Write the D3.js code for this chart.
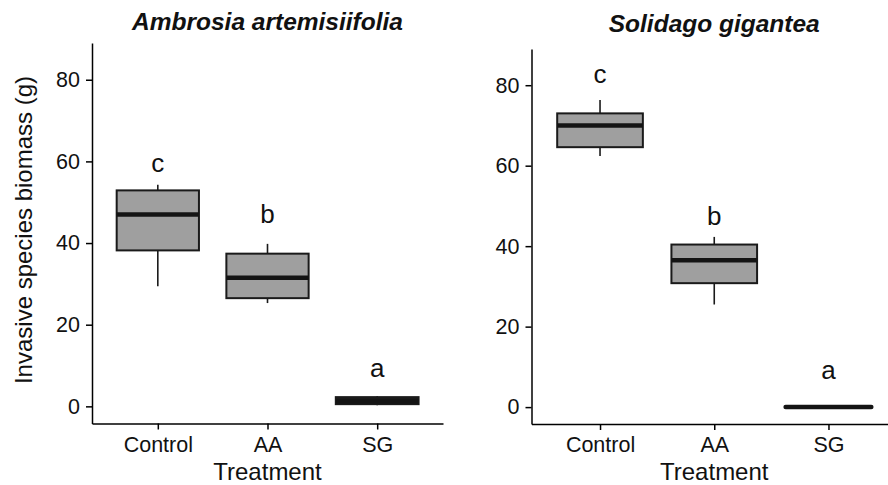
<!DOCTYPE html>
<html lang="en">
<head>
    <meta charset="UTF-8">
    <title>Invasive species biomass</title>
    <script src="https://d3js.org/d3.v7.min.js"></script>
    <style>
        body { margin: 0; background: #ffffff; }
        svg { display: block; font-family: "Liberation Sans", Arial, sans-serif; }
        .axis path, .axis line { stroke: #000; stroke-width: 1.5; }
        .axis text { font-size: 21.5px; fill: #111; }
        .box { fill: #9f9f9f; stroke: #1a1a1a; stroke-width: 2; }
        .whisker { stroke: #1a1a1a; stroke-width: 1.6; }
        .median { stroke: #141414; stroke-width: 4.5; stroke-linecap: butt; }
        .letter { font-size: 26px; fill: #111; text-anchor: middle; }
        .title { font-size: 24.5px; font-weight: bold; font-style: italic; text-anchor: middle; fill: #111; }
        .axis-title { font-size: 24px; fill: #111; text-anchor: middle; }
    </style>
</head>
<body>
<div id="chart"></div>
<script>
    // data
    const treatments = ["Control", "AA", "SG"];
    const yTicks = [0, 20, 40, 60, 80];

    // five number summaries: [min, q1, median, q3, max]
    const ambrosiaBoxes = [
        [29.4, 38.2, 47.0, 52.9, 54.3],
        [25.3, 26.5, 31.5, 37.4, 39.8],
        [0.3, 0.6, 1.2, 2.2, 2.5]
    ];
    const solidagoBoxes = [
        [62.4, 64.6, 70.0, 73.0, 76.3],
        [25.5, 30.8, 36.5, 40.4, 42.3],
        [0, 0, 0, 0, 0]
    ];

    // significance letters and the height they sit at (data units)
    const ambrosiaLetters = ["c", "b", "a"];
    const ambrosiaLetterY = [57.5, 45.0, 7.2];
    const solidagoLetters = ["c", "b", "a"];
    const solidagoLetterY = [80.5, 45.2, 7.1];

    const width = 888;
    const height = 485;

    const svg = d3.select("#chart")
        .append("svg")
        .attr("width", width)
        .attr("height", height);

    const panels = [
        { title: "Ambrosia artemisiifolia", boxes: ambrosiaBoxes, letters: ambrosiaLetters, letterY: ambrosiaLetterY,
          x0: 92, x1: 443, yTop: 43, yBottom: 423.5, titleY: 30 },
        { title: "Solidago gigantea", boxes: solidagoBoxes, letters: solidagoLetters, letterY: solidagoLetterY,
          x0: 531.5, x1: 897, yTop: 49, yBottom: 424, titleY: 32 }
    ];

    panels.forEach(function(p) {
        const g = svg.append("g");

        const x = d3.scalePoint()
            .domain(treatments)
            .range([p.x0, p.x1])
            .padding(0.6);

        const y = d3.scaleLinear()
            .domain([-4.2, 89])
            .range([p.yBottom, p.yTop]);

        const boxW = x.step() * 0.75;

        // y axis
        g.append("g")
            .attr("class", "axis")
            .attr("transform", `translate(${p.x0},0)`)
            .call(d3.axisLeft(y).tickValues(yTicks).tickSize(6).tickSizeOuter(0).tickPadding(6));

        // x axis
        g.append("g")
            .attr("class", "axis")
            .attr("transform", `translate(0,${p.yBottom})`)
            .call(d3.axisBottom(x).tickSize(6).tickSizeOuter(0).tickPadding(7));

        const boxes = g.selectAll(".bx")
            .data(p.boxes)
            .enter().append("g")
            .attr("class", "bx");

        // whiskers
        boxes.append("line")
            .attr("class", "whisker")
            .attr("x1", (d, i) => x(treatments[i]))
            .attr("x2", (d, i) => x(treatments[i]))
            .attr("y1", d => y(d[0]))
            .attr("y2", d => y(d[1]));
        boxes.append("line")
            .attr("class", "whisker")
            .attr("x1", (d, i) => x(treatments[i]))
            .attr("x2", (d, i) => x(treatments[i]))
            .attr("y1", d => y(d[3]))
            .attr("y2", d => y(d[4]));

        // box from q1 to q3
        boxes.append("rect")
            .attr("class", "box")
            .attr("x", (d, i) => x(treatments[i]) - boxW / 2)
            .attr("width", boxW)
            .attr("y", d => y(d[3]))
            .attr("height", d => Math.max(0, y(d[1]) - y(d[3])))
            .style("fill", d => (d[3] - d[1] < 3 ? "#1a1a1a" : null))
            .style("stroke-width", d => (d[3] - d[1] < 3 ? 2.5 : null));

        // median
        boxes.append("line")
            .attr("class", "median")
            .attr("x1", (d, i) => x(treatments[i]) - boxW / 2)
            .attr("x2", (d, i) => x(treatments[i]) + boxW / 2)
            .attr("y1", d => y(d[2]))
            .attr("y2", d => y(d[2]))
            .style("stroke-linecap", d => (d[3] - d[1] < 0.5 ? "round" : null));

        // letters
        g.selectAll(".letter")
            .data(p.letters)
            .enter().append("text")
            .attr("class", "letter")
            .attr("x", (d, i) => x(treatments[i]))
            .attr("y", (d, i) => y(p.letterY[i]))
            .text(d => d);

        // panel title, centred on the panel
        g.append("text")
            .attr("class", "title")
            .attr("x", (p.x0 + p.x1) / 2)
            .attr("y", p.titleY)
            .text(p.title);

        g.append("text")
            .attr("class", "axis-title")
            .attr("x", (p.x0 + p.x1) / 2)
            .attr("y", 480)
            .text("Treatment");
    });

    // shared y axis title
    svg.append("text")
        .attr("class", "axis-title")
        .attr("transform", "translate(32,230) rotate(-90)")
        .text("Invasive species biomass (g)");
</script>
</body>
</html>
